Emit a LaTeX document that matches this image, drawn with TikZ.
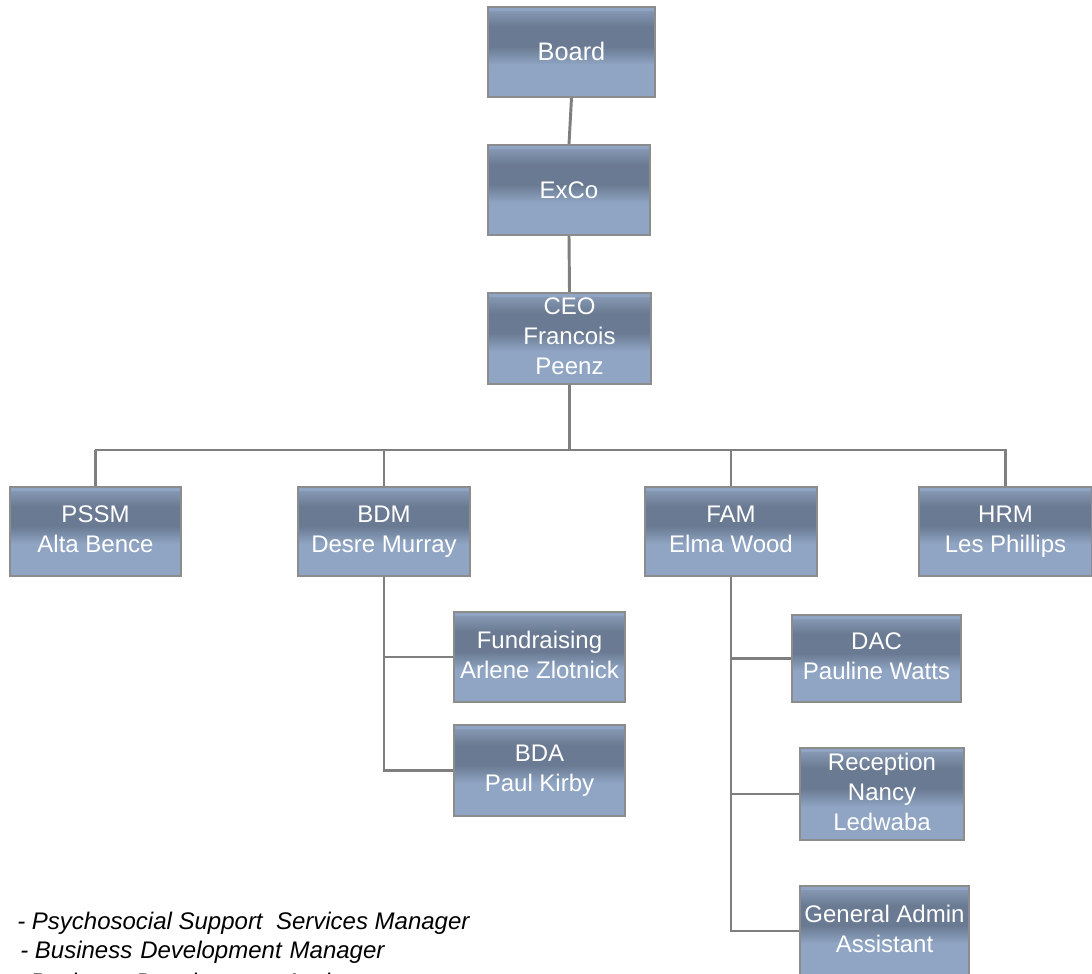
\documentclass[tikz,border=0pt]{standalone}
\usepackage{fontspec}
\setmainfont{Liberation Sans}
\usetikzlibrary{calc}
\definecolor{boxfill}{HTML}{8FA5C3}
\definecolor{boxline}{HTML}{8C8C8C}
\definecolor{bandtop}{HTML}{8496B1}
\definecolor{banddark}{HTML}{6A7A92}
\definecolor{connector}{HTML}{7F7F7F}
\tikzset{
  box/.style={draw=boxline, line width=1.3pt, fill=boxfill, text=white, align=center,
    inner sep=0pt, font=\fontsize{18}{22.5}\selectfont,
    execute at begin node=\rule{0pt}{17pt}, execute at end node=\rule[-4pt]{0pt}{4pt},
    path picture={
      \coordinate (ppnw) at (path picture bounding box.north west);
      \coordinate (ppse) at (path picture bounding box.south east);
      \coordinate (ppsw) at (ppnw|-ppse);
      \coordinate (ppne) at (ppse|-ppnw);
      \shade[top color=bandtop, bottom color=banddark]
        ($(ppnw)!0.05!(ppsw)$) rectangle ($(ppne)!0.22!(ppse)$);
      \fill[banddark] ($(ppnw)!0.22!(ppsw)$) rectangle ($(ppne)!0.44!(ppse)$);
      \shade[top color=banddark, bottom color=boxfill]
        ($(ppnw)!0.44!(ppsw)$) rectangle ($(ppne)!0.64!(ppse)$);
    }},
  link/.style={draw=connector, line width=2.2pt},
  legend/.style={anchor=base west, inner sep=0pt, font=\itshape\fontsize{18}{22.5}\selectfont}
}
\begin{document}
\begin{tikzpicture}[x=0.75pt,y=-0.75pt]
\clip (0,0) rectangle (1092,974);
\fill[white] (0,0) rectangle (1092,974);

% top chain
\node[box, minimum width=125.25pt, minimum height=67.5pt, font=\fontsize{19}{22.5}\selectfont] (board) at (571.5,52) {Board};
\node[box, minimum width=121.5pt, minimum height=67.5pt] (exco) at (569,190) {ExCo};
\node[box, minimum width=122.25pt, minimum height=68.25pt] (ceo) at (569.5,338.5) {CEO\\Francois\\Peenz};

% managers
\node[box, minimum width=128.25pt, minimum height=66.75pt] (pssm) at (95.5,531.5) {PSSM\\Alta Bence};
\node[box, minimum width=129pt, minimum height=66.75pt] (bdm) at (384,531.5) {BDM\\Desre Murray};
\node[box, minimum width=129pt, minimum height=66.75pt] (fam) at (731,531.5) {FAM\\Elma Wood};
\node[box, minimum width=129.75pt, minimum height=66.75pt] (hrm) at (1005.5,531.5) {HRM\\Les Phillips};

% BDM team
\node[box, minimum width=128.25pt, minimum height=67.5pt] (fund) at (539.5,657) {Fundraising\\Arlene Zlotnick};
\node[box, minimum width=128.25pt, minimum height=68.25pt] (bda) at (539.5,770.5) {BDA\\Paul Kirby};

% FAM team
\node[box, minimum width=126.75pt, minimum height=65.25pt] (dac) at (876.5,658.5) {DAC\\Pauline Watts};
\node[box, minimum width=123pt, minimum height=69pt] (rec) at (882,794) {Reception\\Nancy\\Ledwaba};
\node[box, minimum width=126.75pt, minimum height=67.5pt] (gaa) at (884.5,931) {General Admin\\Assistant};

% connectors
\coordinate (busL) at (95,450);
\coordinate (busR) at (1007,450);
\draw[link] (board.south) -- (exco.north);
\draw[link] (exco.south) -- (ceo.north);
\draw[link] (ceo.south) -- (ceo.south |- busL);
\draw[link] (busL) -- (busR);
\draw[link] (pssm.north) -- (pssm.north |- busL);
\draw[link] (bdm.north) -- (bdm.north |- busL);
\draw[link] (fam.north) -- (fam.north |- busL);
\draw[link] (hrm.north) -- (hrm.north |- busL);

\draw[link] (bdm.south) |- (bda.west);
\draw[link] (bdm.south |- fund.west) -- (fund.west);

\draw[link] (fam.south) |- (gaa.west);
\draw[link] (fam.south |- dac.west) -- (dac.west);
\draw[link] (fam.south |- rec.west) -- (rec.west);

% legend
\node[legend] (l1) at (17,929) {- Psychosocial Support\ \ Services Manager};
\node[legend] (l2) at (20,958) {- Business\ \hspace{1pt}Development\ \hspace{1pt}Manager};
\node[legend] (l3) at (15,990) {- Business\ \hspace{1pt}Development\ \hspace{1pt}Assistant};
\end{tikzpicture}
\end{document}
